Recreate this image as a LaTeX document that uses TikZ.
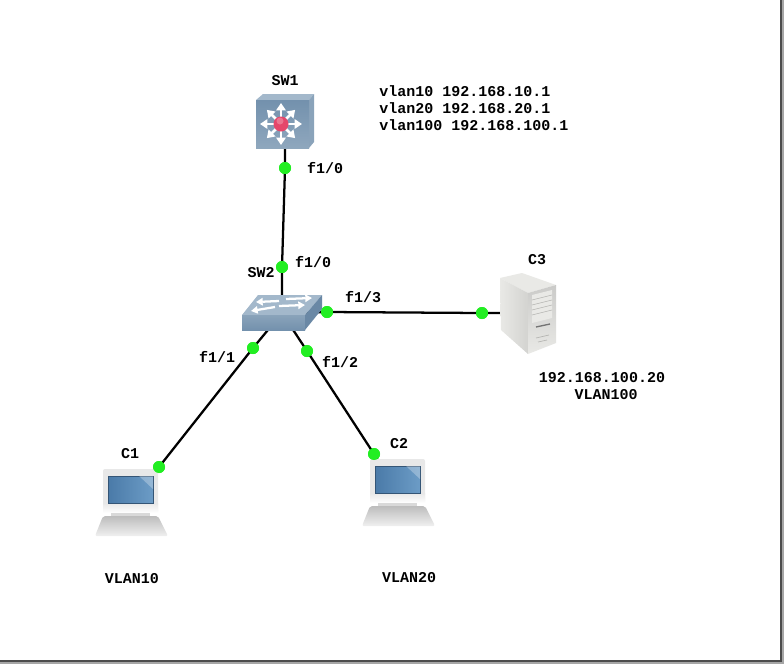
\documentclass[tikz,border=0pt]{standalone}
\usepackage{fontspec}
\setmonofont{Liberation Mono}
\usetikzlibrary{arrows.meta,shadings}
\definecolor{linkgreen}{HTML}{22EE22}
\definecolor{swfront}{HTML}{7391AD}
\definecolor{swtop}{HTML}{A3B8CB}
\definecolor{swside}{HTML}{8AA3BA}
\definecolor{swdark}{HTML}{6A88A5}
\definecolor{ballred}{HTML}{E5476B}
\definecolor{srvlight}{HTML}{E9E9E6}
\definecolor{srvmid}{HTML}{D3D3D0}
\definecolor{srvdark}{HTML}{B4B4B1}
\definecolor{screenblue}{HTML}{6C9CC6}
\definecolor{screendeep}{HTML}{4A7AA8}
\tikzset{
  x=0.75pt, y=-0.75pt,
  label text/.style={font=\ttfamily\bfseries\fontsize{11.25}{12.75}\selectfont, inner sep=0pt, text=black},
  port/.style={circle, fill=linkgreen, draw=none, minimum size=12*0.75pt, inner sep=0pt},
  device/.style={inner sep=0pt, draw=none},
  wire/.style={line width=1.7pt, black},
  panel arrow/.style={draw=white, line width=1.9pt, -{Triangle[length=5.5pt,width=7pt]}},
  flat arrow/.style={draw=white, line width=1.7pt, -{Triangle[length=5pt,width=5.5pt]}},
  laptop/.pic={
    \fill[black!9, rounded corners=1.5pt] (-28,-34) rectangle (27,10);
    \shade[top color=black!9, bottom color=white] (-28,0) rectangle (27,10);
    \fill[black!15] (-20,10) rectangle (19,14);
    \shade[top color=black!26, bottom color=black!6, rounded corners=1.5pt]
      (-28,13) -- (27,13) -- (37,33) -- (-36,33) -- cycle;
    \shade[left color=screendeep, right color=screenblue, draw=screendeep!70!black, line width=.3pt]
      (-23,-27) rectangle (22,0);
    \fill[white, opacity=.28] (8,-27) -- (22,-27) -- (22,-14) -- cycle;
  }
}
\begin{document}
\begin{tikzpicture}
  \useasboundingbox (0,0) rectangle (784,664);
  % page edge shadow along the right and bottom sides
  \fill[white] (0,0) rectangle (784,664);
  \fill[black!35] (782,0) rectangle (784,664);
  \fill[black!35] (0,662) rectangle (784,664);
  \fill[black!70] (780,0) rectangle (782,662);
  \fill[black!70] (0,660) rectangle (782,662);

  % device anchors
  \node[device, minimum width=43.5pt, minimum height=40.5pt] (sw1) at (285,121) {};
  \node[device, minimum width=60pt, minimum height=26pt] (sw2) at (282,313) {};
  \node[device, minimum width=42pt, minimum height=60pt] (c3) at (528,313) {};
  \node[device, minimum width=55pt, minimum height=50pt] (c1) at (131,503) {};
  \node[device, minimum width=55pt, minimum height=50pt] (c2) at (398,493) {};

  % port markers
  \node[port] (p1) at (285,168) {};
  \node[port] (p2) at (282,267) {};
  \node[port] (p3) at (253,348) {};
  \node[port] (p4) at (307,351) {};
  \node[port] (p5) at (327,312) {};
  \node[port] (p6) at (482,313) {};
  \node[port] (p7) at (159,467) {};
  \node[port] (p8) at (374,454) {};

  % links, routed under the device icons
  \draw[wire] (sw1.center) -- (p1.center) -- (p2.center) -- (sw2.center);
  \draw[wire] (sw2.center) -- (p3.center) -- (p7.center) -- (c1.center);
  \draw[wire] (sw2.center) -- (p4.center) -- (p8.center) -- (c2.center);
  \draw[wire] (sw2.center) -- (p5.center) -- (p6.center) -- (c3.center);

  % multilayer switch SW1
  \fill[swtop] (256,100) -- (263,94) -- (314,94) -- (309,100) -- cycle;
  \fill[swside] (309,100) -- (314,94) -- (314,142) -- (309,148) -- cycle;
  \shade[top color=swfront, bottom color=swfront!80!white] (256,100) rectangle (309,148);
  \foreach \a in {0,90,180,270}
    \draw[panel arrow] (281,124) -- ++(\a:21);
  \foreach \a in {45,135,225,315}
    \draw[panel arrow] (281,124) -- ++(\a:20);
  \fill[ballred] (281,124) circle[radius=7.5];
  \fill[white, opacity=.25] (280,121) circle[radius=3.5];

  % access switch SW2
  \fill[swtop] (242,315) -- (258,295) -- (322,295) -- (305,315) -- cycle;
  \shade[top color=swside, bottom color=swfront] (242,315) rectangle (305,330);
  \fill[swdark] (305,315) -- (322,295) -- (322,309) -- (305,330) -- cycle;
  \draw[flat arrow] (279,301) -- (256,302);
  \draw[flat arrow] (286,299) -- (312,298);
  \draw[flat arrow] (275,307) -- (251,311);
  \draw[flat arrow] (279,306) -- (305,305);

  % server C3
  \fill[srvlight] (500,278) -- (522,273) -- (556,285) -- (528,293) -- cycle;
  \shade[left color=srvlight, right color=srvmid] (500,278) -- (528,293) -- (528,354) -- (501,330) -- cycle;
  \shade[top color=srvdark!70!white, bottom color=srvlight] (528,293) -- (556,285) -- (556,343) -- (528,354) -- cycle;
  \fill[srvlight] (532,295) -- (552,290) -- (552,318) -- (532,323) -- cycle;
  \foreach \t in {0,1,2,3}
    \draw[srvdark, line width=.4pt] (532,{300+5*\t}) -- (552,{295+5*\t});
  \draw[black!55, line width=1pt] (536,327) -- (550,324);
  \draw[srvdark, line width=.5pt] (536,338) -- (549,335);
  \draw[srvdark, line width=.5pt] (538,342) -- (547,340);

  % workstations C1 and C2
  \pic at (c1.center) {laptop};
  \pic at (c2.center) {laptop};

  % ports drawn again so they sit above the icons
  \foreach \p in {p1,p2,p3,p4,p5,p6,p7,p8}
    \fill[linkgreen] (\p) circle[radius=6];

  % device names
  \node[label text] at (285,81) {SW1};
  \node[label text] at (261,273) {SW2};
  \node[label text] at (537,260) {C3};
  \node[label text] at (130,454) {C1};
  \node[label text] at (399,444) {C2};

  % port names
  \node[label text] at (325,168) {f1/0};
  \node[label text] at (313,262) {f1/0};
  \node[label text] at (363,297) {f1/3};
  \node[label text] at (217,357) {f1/1};
  \node[label text] at (340,362) {f1/2};

  % addressing notes
  \node[label text, anchor=west, align=left] at (379,108)
    {vlan10 192.168.10.1\\vlan20 192.168.20.1\\vlan100 192.168.100.1};
  \node[label text] at (602,378) {192.168.100.20};
  \node[label text] at (606,395) {VLAN100};
  \node[label text] at (132,579) {VLAN10};
  \node[label text] at (409,578) {VLAN20};
\end{tikzpicture}
\end{document}
